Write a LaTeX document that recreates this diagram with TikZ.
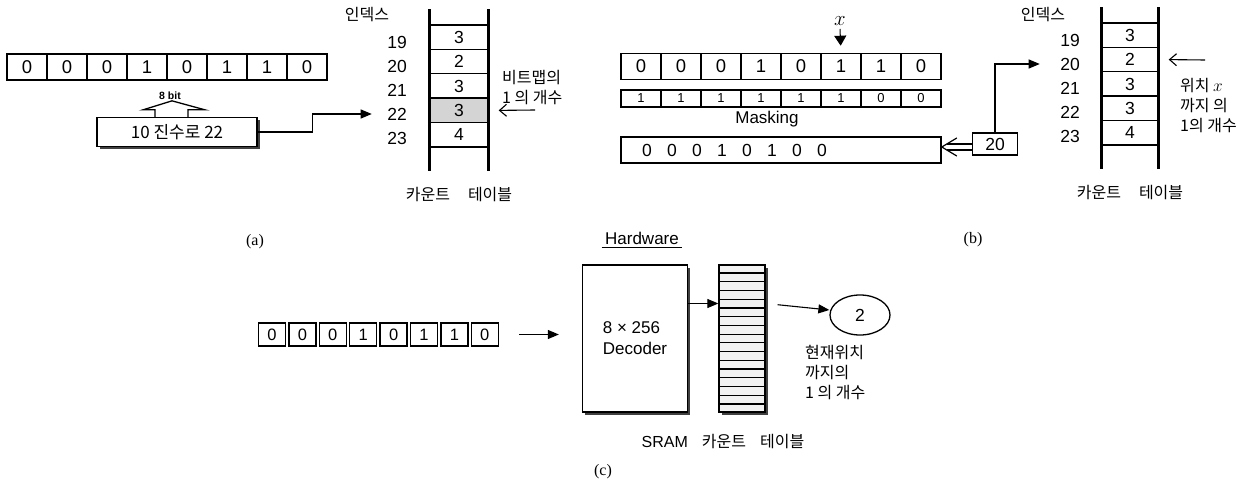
\documentclass[tikz,border=0pt]{standalone}
\usepackage{fontspec}
\setmainfont{Liberation Sans}
\newfontfamily\kor{Noto Sans CJK KR}
\newfontfamily\capfont{Liberation Serif}
\usetikzlibrary{arrows.meta,positioning,calc,shapes.geometric,shadows,backgrounds}
\definecolor{cellgray}{HTML}{D4D4D4}
\definecolor{sramfill}{HTML}{F2F2F2}

\tikzset{
  cell/.style={draw,line width=1.6pt,minimum width=40pt,minimum height=26pt,inner sep=0pt,font=\fontsize{18.5}{18}\selectfont},
  mcell/.style={draw,line width=1.3pt,minimum width=40pt,minimum height=17pt,inner sep=0pt,font=\fontsize{13}{13}\selectfont},
  ccell/.style={draw,line width=1.5pt,minimum width=27pt,minimum height=23pt,inner sep=0pt,font=\fontsize{16.5}{16}\selectfont},
  tcell/.style={draw,line width=1.4pt,minimum height=24.4pt,inner sep=0pt,font=\fontsize{17.5}{17}\selectfont},
  idx/.style={font=\fontsize{17.5}{17}\selectfont},
  ktext/.style={font=\kor\fontsize{16}{20}\selectfont,align=left,inner sep=0pt},
  bar/.style={line width=3.2pt},
  arr/.style={line width=1.1pt,-{Triangle[length=11pt,width=9pt]}},
  barb/.style={line width=1.1pt,-{Straight Barb[length=7pt,width=12pt]}},
  hollow/.style={line width=1.2pt},
  capt/.style={font=\capfont\fontsize{16}{16}\selectfont},
  shadowbox/.style={draw,line width=1.3pt,fill=white,
    drop shadow={shadow xshift=2.5pt,shadow yshift=-2.5pt,fill=black!75,opacity=1}},
}

\begin{document}
\begin{tikzpicture}[x=1pt,y=-1pt]
\useasboundingbox (0,0) rectangle (1258,481);

% (a): bitmap, decimal value, count table
\foreach \b [count=\i] in {0,0,0,1,0,1,1,0}
  \node[cell] (ra\i) at (7+40*\i-20,67) {\b};
\node[font=\bfseries\fontsize{10.5}{10}\selectfont] (bits) at (170,96) {8 bit};
\node[shadowbox,minimum width=160pt,minimum height=29pt,font=\kor\fontsize{17}{17}\selectfont] (conv) at (177,132) {10 진수로 22};
\draw[line width=1.3pt] ([xshift=-22pt]conv.north) -- ++(0,-7) -- ++(-12,0) -- ++(29,-9)
  -- ++(33,9) -- ++(-17,0) -- ([xshift=11pt]conv.north);

\node[ktext] (hdA) at (367,15) {인덱스};
\foreach \n [count=\i] in {19,...,23}
  \node[idx] (ia\n) at (397,42+24*\i-24) {\n};
\foreach \v [count=\i] in {3,2,3,3,4}
  \node[tcell,minimum width=58pt] (ta\i) at (459,25+24.4*\i-12.2) {\v};
\begin{scope}[on background layer]
  \fill[cellgray] (ta4.north west) rectangle (ta4.south east);
\end{scope}
\draw[bar] ([yshift=15pt]ta1.north west) -- ([yshift=-23pt]ta5.south west);
\draw[bar] ([yshift=15pt]ta1.north east) -- ([yshift=-23pt]ta5.south east);
\draw[arr] (conv.east) -- ++(55,0) |- ([xshift=-12pt]ia22.west);
\node[ktext,anchor=west] (cntA) at (502,88) {비트맵의\\1 의 개수};
\coordinate (pa) at (535,110);
\draw[barb] (pa) -- ([xshift=10pt]ta4.east);
\node[ktext] (tnA) at (459,195) {카운트\hspace{18pt}테이블};
\node[capt] (capA) at (255,242) {(a)};

% (b): masking at position x
\node[font=\fontsize{22}{22}\selectfont] (xm) at (840,21) {$x$};
\foreach \b [count=\i] in {0,0,0,1,0,1,1,0}
  \node[cell] (rb\i) at (621+40*\i-20,66.5) {\b};
\draw[line width=1pt,-{Triangle[length=10pt,width=12pt]},shorten >=7pt] (xm.south) -- (rb6.north);
\foreach \b [count=\i] in {1,1,1,1,1,1,0,0}
  \node[mcell] (rm\i) at (621+40*\i-20,98.5) {\b};
\node[font=\fontsize{17}{17}\selectfont] (mask) at (767,119) {Masking};
\node[draw,line width=1.6pt,minimum width=320pt,minimum height=26pt] (res3) at (781,150) {};
\foreach \b [count=\i] in {0,0,0,1,0,1,0,0}
  \node[font=\fontsize{17.5}{17}\selectfont] (rv\i) at (647+25*\i-25,150) {\b};
\node[draw,line width=1.3pt,minimum width=45pt,minimum height=22pt,font=\fontsize{17.5}{17}\selectfont] (n20) at (995,144) {20};
% hollow arrow into the masked value
\coordinate (tip) at ([yshift=3pt]res3.east);
\draw[hollow] ($(tip)+(15,-9)$) -- (tip) -- ($(tip)+(15,9)$);
\draw[hollow] ($(tip)+(5,-3)$) -- (n20.west);
\draw[hollow] ($(tip)+(5,3)$) -- ([yshift=-6pt]n20.west);

\node[ktext] (hdB) at (1043,15) {인덱스};
\foreach \n [count=\i] in {19,...,23}
  \node[idx] (ib\n) at (1070,40+24*\i-24) {\n};
\foreach \v [count=\i] in {3,2,3,3,4}
  \node[tcell,minimum width=56pt] (tb\i) at (1130,23+24.4*\i-12.2) {\v};
\draw[bar] ([yshift=15pt]tb1.north west) -- ([yshift=-23pt]tb5.south west);
\draw[bar] ([yshift=15pt]tb1.north east) -- ([yshift=-23pt]tb5.south east);
\draw[arr] (n20.north) |- ([xshift=-17pt]ib20.west);
\coordinate (pb) at (1205,60);
\draw[barb] (pb) -- ([xshift=10pt]tb2.east);
\node[ktext,anchor=north west] (cntB) at (1180,78) {위치 $x$\\까지 의\\1의 개수};
\node[ktext] (tnB) at (1130,193) {카운트\hspace{18pt}테이블};
\node[capt] (capB) at (973,240) {(b)};

% (c): hardware decoder and SRAM
\node[font=\fontsize{17}{17}\selectfont] (hw) at (642,238) {Hardware};
\draw[line width=1pt] (hw.south west) -- (hw.south east);
\foreach \b [count=\i] in {0,0,0,1,0,1,1,0}
  \node[ccell] (rc\i) at (272+30.4*\i-30.4,334.5) {\b};
\node[shadowbox,minimum width=105pt,minimum height=147pt,align=left,font=\fontsize{17}{21}\selectfont] (dec) at (635,338.5) {8 × 256\\Decoder};
\draw[arr,shorten <=20pt,shorten >=23pt] (rc8.east) -- (rc8.east -| dec.west);
\node[shadowbox,fill=sramfill,minimum width=46pt,minimum height=147pt] (sram) at (742,338.5) {};
\foreach \k in {1,...,16}
  \draw[line width=1.2pt] ($(sram.north west)!\k/17!(sram.south west)$) -- ($(sram.north east)!\k/17!(sram.south east)$);
\draw[arr] ([yshift=35pt]dec.east) -- ([yshift=35pt]sram.west);
\node[draw,ellipse,line width=1.3pt,minimum width=60pt,minimum height=40pt,font=\fontsize{17.5}{17}\selectfont] (res) at (860,315) {2};
\draw[arr,shorten <=12pt] ([yshift=35pt]sram.east) -- ([yshift=5pt]res.west);
\node[ktext,anchor=north west] (cntC) at (805,345) {현재위치\\까지의\\1 의 개수};
\node[ktext] (tnC) at (723,442) {{\rmfamily SRAM}\hspace{14pt}카운트\hspace{14pt}테이블};
\node[capt] (capC) at (603,472) {(c)};
\end{tikzpicture}
\end{document}
